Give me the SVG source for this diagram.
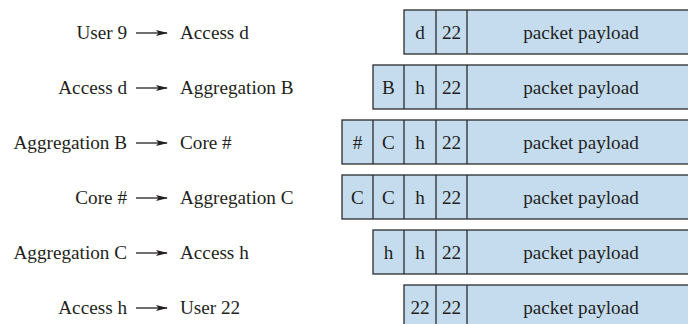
<svg xmlns="http://www.w3.org/2000/svg" width="688" height="324" viewBox="0 0 688 324">
  <style>
    text { font-family: "Liberation Serif", "Times New Roman", serif; font-size: 19.2px; fill: #231f20; }
    .from { text-anchor: end; }
    .cell text { text-anchor: middle; }
    .box { fill: #c4dcee; stroke: #2b2b2b; stroke-width: 1.3; }
    .div { stroke: #2b2b2b; stroke-width: 1.3; }
    .arrow { stroke: #231f20; stroke-width: 1.3; fill: none; marker-end: url(#head); }
  </style>
  <defs>
    <marker id="head" viewBox="0 0 12 6" refX="11" refY="3" markerWidth="12" markerHeight="6" markerUnits="userSpaceOnUse" orient="auto">
      <path d="M0,0 L12,3 L0,6 L2.5,3 Z" fill="#231f20"/>
    </marker>
  </defs>

  <!-- hop labels -->
  <g id="hop1"><text class="from" x="127" y="39">User 9</text><text x="180" y="39">Access d</text></g>
  <g id="hop2"><text class="from" x="127" y="94">Access d</text><text x="180" y="94">Aggregation B</text></g>
  <g id="hop3"><text class="from" x="127" y="149">Aggregation B</text><text x="180" y="149">Core #</text></g>
  <g id="hop4"><text class="from" x="127" y="204">Core #</text><text x="180" y="204">Aggregation C</text></g>
  <g id="hop5"><text class="from" x="127" y="259">Aggregation C</text><text x="180" y="259">Access h</text></g>
  <g id="hop6"><text class="from" x="127" y="314">Access h</text><text x="180" y="314">User 22</text></g>

  <!-- arrows between hop labels -->
  <g id="connectors">
    <path class="arrow" d="M136,33 H167"/>
    <path class="arrow" d="M136,88 H167"/>
    <path class="arrow" d="M136,143 H167"/>
    <path class="arrow" d="M136,198 H167"/>
    <path class="arrow" d="M136,253 H167"/>
    <path class="arrow" d="M136,308 H167"/>
  </g>

  <!-- packets: header cells of 31.3px, then the payload -->
  <g id="packet1" class="cell">
    <rect class="box" x="404" y="10" width="300" height="44"/>
    <line class="div" x1="436" y1="10" x2="436" y2="54"/>
    <line class="div" x1="467" y1="10" x2="467" y2="54"/>
    <text x="420" y="39">d</text><text x="451.5" y="39">22</text><text x="581" y="39">packet payload</text>
  </g>
  <g id="packet2" class="cell">
    <rect class="box" x="373" y="65" width="330" height="44"/>
    <line class="div" x1="404" y1="65" x2="404" y2="109"/>
    <line class="div" x1="436" y1="65" x2="436" y2="109"/>
    <line class="div" x1="467" y1="65" x2="467" y2="109"/>
    <text x="388.5" y="94">B</text><text x="420" y="94">h</text><text x="451.5" y="94">22</text><text x="581" y="94">packet payload</text>
  </g>
  <g id="packet3" class="cell">
    <rect class="box" x="342" y="120" width="360" height="44"/>
    <line class="div" x1="373" y1="120" x2="373" y2="164"/>
    <line class="div" x1="404" y1="120" x2="404" y2="164"/>
    <line class="div" x1="436" y1="120" x2="436" y2="164"/>
    <line class="div" x1="467" y1="120" x2="467" y2="164"/>
    <text x="357.5" y="149">#</text><text x="388.5" y="149">C</text><text x="420" y="149">h</text><text x="451.5" y="149">22</text><text x="581" y="149">packet payload</text>
  </g>
  <g id="packet4" class="cell">
    <rect class="box" x="342" y="175" width="360" height="44"/>
    <line class="div" x1="373" y1="175" x2="373" y2="219"/>
    <line class="div" x1="404" y1="175" x2="404" y2="219"/>
    <line class="div" x1="436" y1="175" x2="436" y2="219"/>
    <line class="div" x1="467" y1="175" x2="467" y2="219"/>
    <text x="357.5" y="204">C</text><text x="388.5" y="204">C</text><text x="420" y="204">h</text><text x="451.5" y="204">22</text><text x="581" y="204">packet payload</text>
  </g>
  <g id="packet5" class="cell">
    <rect class="box" x="373" y="230" width="330" height="44"/>
    <line class="div" x1="404" y1="230" x2="404" y2="274"/>
    <line class="div" x1="436" y1="230" x2="436" y2="274"/>
    <line class="div" x1="467" y1="230" x2="467" y2="274"/>
    <text x="388.5" y="259">h</text><text x="420" y="259">h</text><text x="451.5" y="259">22</text><text x="581" y="259">packet payload</text>
  </g>
  <g id="packet6" class="cell">
    <rect class="box" x="404" y="285" width="300" height="44"/>
    <line class="div" x1="436" y1="285" x2="436" y2="329"/>
    <line class="div" x1="467" y1="285" x2="467" y2="329"/>
    <text x="420" y="314">22</text><text x="451.5" y="314">22</text><text x="581" y="314">packet payload</text>
  </g>
</svg>
